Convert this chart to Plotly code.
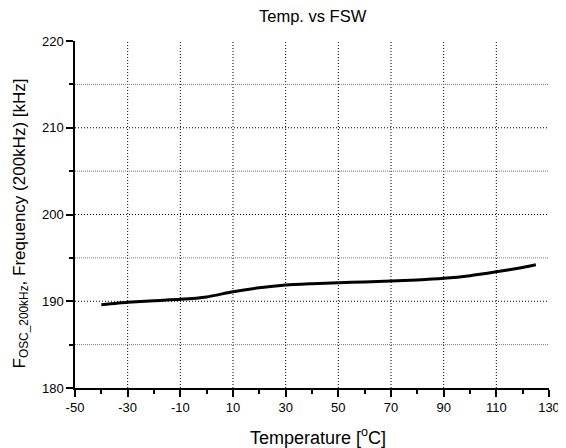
import plotly.graph_objects as go

temperature = [-40, -30, -20, -10, 0, 10, 20, 30, 40, 50, 60, 70, 80, 90, 100, 110, 120, 125]
frequency = [189.6, 189.88, 190.07, 190.22, 190.5, 191.1, 191.55, 191.87, 192.02, 192.14, 192.23, 192.33, 192.45, 192.64, 192.95, 193.4, 193.9, 194.2]

x_major = [-50, -30, -10, 10, 30, 50, 70, 90, 110, 130]
x_labels = ["-50", "-30", "-10", "10", "30", "50", "70", "90", "110", "130"]
y_major = [180, 190, 200, 210, 220]
y_minor = [185, 195, 205, 215]

title_text = "Temp. vs FSW"
x_title = "Temperature [<sup>o</sup>C]"
y_title = "F<sub>OSC_200kHz</sub>, Frequency (200kHz) [kHz]"

font = "Liberation Sans, Arial, sans-serif"

fig = go.Figure()

shapes = []
for xv in x_major[1:-1]:
    shapes.append(dict(type="line", xref="x", yref="paper", x0=xv, x1=xv, y0=0, y1=1,
                       line=dict(color="black", width=1, dash="1px,2px"), layer="below"))
for yv in y_major[1:-1]:
    shapes.append(dict(type="line", xref="paper", yref="y", x0=0, x1=1, y0=yv, y1=yv,
                       line=dict(color="black", width=1, dash="1px,2px"), layer="below"))
for yv in y_minor:
    shapes.append(dict(type="line", xref="paper", yref="y", x0=0, x1=1, y0=yv, y1=yv,
                       line=dict(color="#777777", width=1, dash="1px,1px"), layer="below"))

fig.add_trace(go.Scatter(x=temperature, y=frequency, mode="lines",
                         line=dict(color="black", width=3, shape="spline", smoothing=0.6),
                         showlegend=False))

annotations = [
    dict(text=title_text, xref="paper", yref="paper", x=0.5, y=1, xshift=0.5, yshift=25,
         xanchor="center", yanchor="middle", showarrow=False,
         font=dict(size=16.5, family=font, color="black")),
    dict(text=x_title, xref="paper", yref="paper", x=0.5, y=0, xshift=6, yshift=-48,
         xanchor="center", yanchor="middle", showarrow=False,
         font=dict(size=18, family=font, color="black")),
    dict(text=y_title, xref="paper", yref="paper", x=0, y=0.5, xshift=-55, yshift=-9,
         xanchor="center", yanchor="middle", textangle=-90, showarrow=False,
         font=dict(size=17, family=font, color="black")),
]

# The page adds an 8px body margin, so the figure is sized 8px smaller.
fig.update_layout(
    width=558, height=440,
    margin=dict(l=67, r=17, t=33, b=60),
    paper_bgcolor="white", plot_bgcolor="white",
    font=dict(family=font, size=13, color="black"),
    shapes=shapes,
    annotations=annotations,
    xaxis=dict(range=[-50, 130], tickvals=x_major, ticktext=x_labels, ticks="outside",
               ticklen=7, tickwidth=1.5, tickcolor="black", showline=True, linecolor="black",
               linewidth=1.5, showgrid=False, zeroline=False, automargin=False,
               tickfont=dict(size=13),
               minor=dict(dtick=10, tick0=-50, ticks="outside", ticklen=4, tickwidth=1.5,
                          tickcolor="black", showgrid=False)),
    yaxis=dict(range=[180, 220], tickvals=y_major, ticks="outside", ticklen=7, tickwidth=1.5,
               tickcolor="black", showline=True, linecolor="black", linewidth=1.5,
               showgrid=False, zeroline=False, automargin=False, tickfont=dict(size=13),
               minor=dict(dtick=5, tick0=180, ticks="outside", ticklen=4, tickwidth=1.5,
                          tickcolor="black", showgrid=False)),
)

fig.write_html("out.html")
